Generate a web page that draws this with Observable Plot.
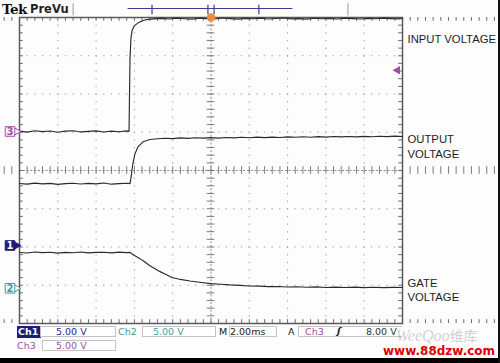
<!DOCTYPE html>
<html><head><meta charset="utf-8">
<script src="https://cdn.jsdelivr.net/npm/d3@7"></script>
<script src="https://cdn.jsdelivr.net/npm/@observablehq/plot@0.6"></script>
<style>
html,body{margin:0;padding:0;background:#fff;}
#wrap{position:relative;width:500px;height:363px;overflow:hidden;background:#fdfdfd;font-family:"DejaVu Sans",sans-serif;}
#wrap svg{position:absolute;left:0;top:0;}
.t{position:absolute;font-size:9.5px;line-height:12px;height:12px;white-space:nowrap;}
.box{position:absolute;border:1px solid #c4c4c4;height:11px;background:#fff;box-sizing:border-box;}
</style></head><body><div id="wrap"></div>
<script>
// ---- scope settings ----
const msPerDiv = 2;     // M 2.00ms
const voltsPerDiv = 5;  // 5.00 V on all channels

// ---- channel ground markers (divisions from centre) ----
const channelNames = ["3", "1", "2"];
const channelGround = [1.02, -1.96, -3.08];

// ---- traces: [time ms, volts] ----
const inputTrace = [ // Ch3
[-10,0.05],[-9.6,-0.08],[-9.2,0.10],[-8.8,-0.02],[-8.4,0.07],[-8.0,-0.10],[-7.6,0.04],[-7.2,0.09],[-6.8,-0.06],[-6.4,0.02],[-6.0,0.08],[-5.6,-0.07],[-5.2,0.05],[-4.8,-0.04],[-4.4,0.08],[-4.28,0.02],
[-4.26,4.0],[-4.23,9.5],[-4.18,12.2],[-4.12,13.2],[-4.03,13.7],[-3.96,13.9],[-3.80,14.2],[-3.60,14.45],[-3.40,14.6],[-3.24,14.65],[-3.0,14.72],
[-2.6,14.78],[-2.2,14.70],[-1.8,14.82],[-1.4,14.74],[-1.0,14.68],[-0.6,14.80],[-0.2,14.76],[0.2,14.71],[0.6,14.83],[1.0,14.75],[1.4,14.69],[1.8,14.79],[2.2,14.73],[2.6,14.81],[3.0,14.70],[3.4,14.77],[3.8,14.84],[4.2,14.72],[4.6,14.76],[5.0,14.69],[5.4,14.80],[5.8,14.74],[6.2,14.78],[6.6,14.71],[7.0,14.82],[7.4,14.75],[7.8,14.70],[8.2,14.79],[8.6,14.73],[9.0,14.81],[9.4,14.76],[9.8,14.72],[10,14.77]
];
const outputTrace = [ // Ch1
[-10,8.10],[-9.6,8.02],[-9.2,8.15],[-8.8,8.05],[-8.4,8.12],[-8.0,7.98],[-7.6,8.08],[-7.2,8.14],[-6.8,8.03],[-6.4,8.11],[-6.0,8.06],[-5.6,8.16],[-5.2,8.01],[-4.8,8.09],[-4.4,8.13],[-4.23,8.08],
[-4.18,8.8],[-4.13,9.8],[-4.07,10.8],[-3.97,12.0],[-3.81,12.9],[-3.55,13.55],[-3.19,13.85],[-2.8,13.95],
[-2.4,14.02],[-2.0,13.96],[-1.6,14.06],[-1.2,14.00],[-0.8,14.08],[-0.4,14.03],[0,14.10],[0.4,14.04],[0.8,14.12],[1.2,14.07],[1.6,14.14],[2.0,14.08],[2.4,14.16],[2.8,14.10],[3.2,14.17],[3.6,14.12],[4.0,14.19],[4.4,14.14],[4.8,14.21],[5.2,14.15],[5.6,14.22],[6.0,14.17],[6.4,14.24],[6.8,14.19],[7.2,14.25],[7.6,14.20],[8.0,14.27],[8.4,14.21],[8.8,14.28],[9.2,14.23],[9.6,14.30],[10,14.25]
];
const gateTrace = [ // Ch2
[-10,4.68],[-9.6,4.62],[-9.2,4.74],[-8.8,4.66],[-8.4,4.71],[-8.0,4.60],[-7.6,4.70],[-7.2,4.65],[-6.8,4.75],[-6.4,4.63],[-6.0,4.69],[-5.6,4.72],[-5.2,4.64],[-4.8,4.73],[-4.4,4.67],[-4.23,4.70],
[-4.1,4.45],[-3.97,4.25],[-3.71,3.88],[-3.45,3.44],[-3.19,2.96],[-2.92,2.57],[-2.66,2.18],[-2.35,1.80],[-2.04,1.42],[-1.6,1.16],[-1.1,0.95],[-0.5,0.76],[0,0.62],[0.5,0.53],[1.0,0.44],[1.5,0.39],[2.0,0.30],[2.5,0.28],[3.0,0.22],[3.5,0.24],[4.0,0.17],[4.5,0.20],[5.0,0.14],[5.5,0.18],[6.0,0.11],[6.5,0.16],[7.0,0.10],[7.5,0.15],[8.0,0.09],[8.5,0.14],[9.0,0.08],[9.5,0.13],[10,0.10]
];

// ---- trace labels ----
const labelTexts = ["INPUT VOLTAGE", "OUTPUT\nVOLTAGE", "GATE\nVOLTAGE"];
const labelLevels = [3.45, 0.64, -3.11]; // divisions

// ---- trigger ----
const triggerLevelVolts = 8.0; // Ch3 trigger level
const triggerTime = 0;

// ---- record-view bar (ms, on the same time scale) ----
const recordBar = [-4.33, 4.28];
const recordTicks = [-3.08, -0.16, 0.16, 2.5];
const recordEnds = [-7.2, 7.15];

// ---------------------------------------------------------
const chColor = {"1": "#1d1d76", "2": "#3a9f9f", "3": "#a24ea6"};
const tr = (arr, ch) => arr.map(([t, v]) => ({t, y: channelGround[channelNames.indexOf(ch)] + v / voltsPerDiv}));
const xmin = -5 * msPerDiv, xmax = 5 * msPerDiv;
const majorT = d3.range(-4, 5).map(d => d * msPerDiv).filter(d => d !== 0);
const majorY = [-3, -2, -1, 1, 2, 3];
const minorT = d3.range(-49, 50).map(d => d * msPerDiv / 5);
const minorY = d3.range(-19, 20).map(d => d / 5);
const tickT = 0.1 * msPerDiv, tickY = 0.1;
const chRows = channelNames.map((n, i) => ({name: n, y: channelGround[i]}));
const labelRows = labelTexts.map((t, i) => ({text: t, y: labelLevels[i]}));
const grid = {stroke: "#9c9c9c", strokeWidth: 1, strokeDasharray: "1.3,6.35"};

const plot = Plot.plot({
  width: 500, height: 363,
  marginLeft: 19, marginRight: 98, marginTop: 17, marginBottom: 40,
  x: {domain: [xmin, xmax], axis: null},
  y: {domain: [-4, 4], axis: null},
  style: {background: "transparent", overflow: "visible"},
  marks: [
    Plot.ruleX(majorT, grid),
    Plot.ruleY(majorY, grid),
    Plot.ruleX([0], {stroke: "#8a8a8a", strokeDasharray: "2,1.8"}),
    Plot.ruleY([0], {stroke: "#8a8a8a", strokeDasharray: "2,1.8"}),
    Plot.ruleX(minorT, {y1: -tickY, y2: tickY, stroke: "#7a7a7a"}),
    Plot.ruleY(minorY, {x1: -tickT, x2: tickT, stroke: "#7a7a7a"}),
    Plot.ruleX(minorT, {y1: 4, y2: 4 - tickY, stroke: "#6a6a6a"}),
    Plot.ruleX(minorT, {y1: -4, y2: -4 + tickY, stroke: "#6a6a6a"}),
    Plot.ruleY(minorY, {x1: xmin, x2: xmin + tickT, stroke: "#6a6a6a"}),
    Plot.ruleY(minorY, {x1: xmax, x2: xmax - tickT, stroke: "#6a6a6a"}),
    Plot.frame({stroke: "#5a5a5a", strokeWidth: 1.5}),
    // record view bar
    Plot.ruleY([4.235], {x1: recordBar[0], x2: recordBar[1], stroke: "#3c3c8c", strokeWidth: 1.2}),
    Plot.ruleX(recordTicks, {y1: 4.07, y2: 4.32, stroke: "#3c3c8c", strokeWidth: 1.2}),
    Plot.ruleX(recordEnds, {y1: 4.04, y2: 4.36, stroke: "#9a9a9a", strokeWidth: 1}),
    // traces
    Plot.line(tr(inputTrace, "3"), {x: "t", y: "y", stroke: "#2a2a2a", strokeWidth: 1.15}),
    Plot.line(tr(outputTrace, "1"), {x: "t", y: "y", stroke: "#2a2a2a", strokeWidth: 1.15}),
    Plot.line(tr(gateTrace, "2"), {x: "t", y: "y", stroke: "#2a2a2a", strokeWidth: 1.15}),
    // trigger position & level
    Plot.dot([triggerTime], {x: d => d, y: 4, r: 4.2, fill: "#ee8a3e", stroke: "none"}),
    Plot.dot([channelGround[0] + triggerLevelVolts / voltsPerDiv], {x: xmax, y: d => d, dx: -5, symbol: "triangle", rotate: -90, r: 3.2, fill: chColor["3"]}),
    // channel markers
    Plot.dot(chRows, {x: xmin, y: "y", dx: -4, symbol: "triangle", rotate: 90, r: 3.4,
      fill: d => d.name === "1" ? chColor["1"] : "#fff", stroke: d => chColor[d.name], strokeWidth: 1}),
    Plot.dot(chRows, {x: xmin, y: "y", dx: -9.5, symbol: "square", r: 5.4,
      fill: d => d.name === "1" ? chColor["1"] : "#fbf6fb", stroke: d => chColor[d.name], strokeWidth: 1}),
    Plot.text(chRows, {x: xmin, y: "y", dx: -9.5, text: "name", fontSize: 10, fontWeight: "bold",
      fontFamily: "DejaVu Sans", fill: d => d.name === "1" ? "#fff" : chColor[d.name]}),
    // labels
    Plot.text(labelRows, {x: xmax, y: "y", text: "text", dx: 5, textAnchor: "start", lineAnchor: "middle",
      lineHeight: 1.27, fontSize: 11.3, fontFamily: "Liberation Sans, Arial", fill: "#1e1e1e"})
  ]
});
const wrap = document.getElementById("wrap");
wrap.appendChild(plot);

const html = `
<div class="t" style="left:2px;top:1px;font-size:13.5px;line-height:16px;height:16px;font-weight:bold;color:#111;letter-spacing:-0.6px;font-family:'DejaVu Serif',serif;">Tek</div>
<div class="t" style="left:30px;top:2px;font-size:11.5px;line-height:14px;height:14px;font-weight:bold;color:#222;">PreVu</div>

<div class="t" style="left:17px;top:326px;width:23px;background:${chColor["1"]};color:#fff;font-weight:bold;padding-left:1px;">Ch1</div>
<div class="box" style="left:40px;top:326px;width:76px;"></div>
<div class="t" style="left:56px;top:326px;color:#26268a;">5.00 V</div>
<div class="t" style="left:118px;top:326px;color:${chColor["2"]};">Ch2</div>
<div class="box" style="left:142px;top:326px;width:74px;"></div>
<div class="t" style="left:153px;top:326px;color:${chColor["2"]};">5.00 V</div>
<div class="t" style="left:219px;top:326px;color:#222;">M</div>
<div class="box" style="left:229px;top:326px;width:48px;"></div>
<div class="t" style="left:230px;top:326px;color:#222;">2.00ms</div>
<div class="t" style="left:288px;top:326px;color:#222;">A</div>
<div class="box" style="left:298px;top:326px;width:104px;border-right:none;"></div>
<div class="t" style="left:305px;top:326px;color:${chColor["3"]};">Ch3</div>
<div class="t" style="left:337px;top:325px;color:#222;font-weight:bold;font-style:italic;">ʃ</div>
<div class="t" style="left:366px;top:326px;color:#333;">8.00 V</div>

<div class="t" style="left:17px;top:340px;color:${chColor["3"]};">Ch3</div>
<div class="box" style="left:42px;top:340px;width:74px;"></div>
<div class="t" style="left:56px;top:340px;color:${chColor["3"]};">5.00 V</div>

<div class="t" style="left:396px;top:327px;font-size:16px;line-height:17px;height:17px;font-style:italic;color:rgba(150,150,160,0.45);font-family:'Liberation Serif',serif;">WeeQoo<span style="font-family:'Noto Sans CJK SC';font-style:normal;font-size:14px;">维库</span></div>
<div class="t" style="left:383px;top:344px;font-size:12px;line-height:14px;height:14px;font-weight:bold;color:#e00000;">www.88dzw.com</div>
<div style="position:absolute;left:0;top:358px;width:500px;height:5px;background:#000;"></div>
<div style="position:absolute;left:498px;top:0;width:2px;height:363px;background:#111;"></div>
`;
wrap.insertAdjacentHTML("beforeend", html);
</script></body></html>
